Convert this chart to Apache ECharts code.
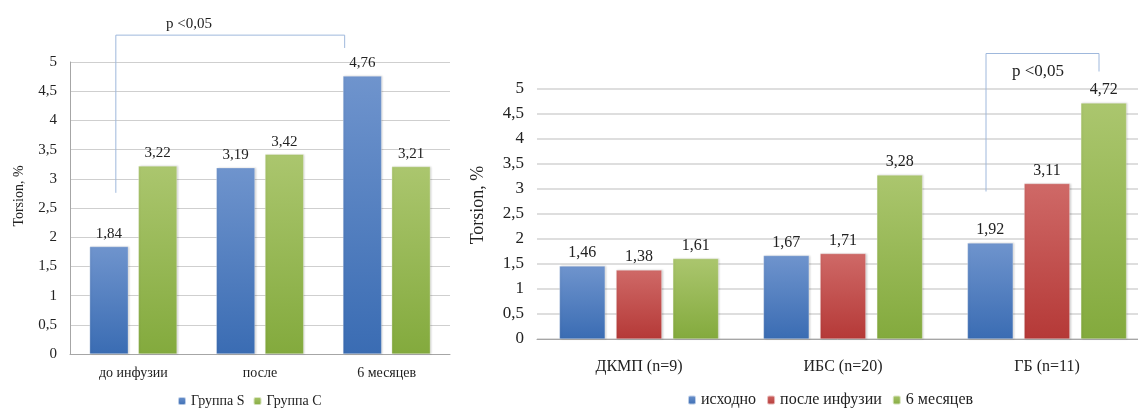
<!DOCTYPE html>
<html>
<head>
<meta charset="utf-8">
<script src="https://cdn.jsdelivr.net/npm/echarts@6/dist/echarts.min.js"></script>
<style>
  html, body { margin: 0; padding: 0; background: #fff; }
  #chart { width: 1138px; height: 408px; }
</style>
</head>
<body>
<div id="chart"></div>
<script>
// Left panel: two groups over three time points
const leftCategories = ['до инфузии', 'после', '6 месяцев'];
const groupS = [1.84, 3.19, 4.76];
const groupC = [3.22, 3.42, 3.21];

// Right panel: three diagnoses, three measurement points
const rightCategories = ['ДКМП (n=9)', 'ИБС (n=20)', 'ГБ (n=11)'];
const baseline = [1.46, 1.67, 1.92];
const afterInfusion = [1.38, 1.71, 3.11];
const sixMonths = [1.61, 3.28, 4.72];

const yTicks = [0, 0.5, 1, 1.5, 2, 2.5, 3, 3.5, 4, 4.5, 5];
const pText = 'p <0,05';

const serif = '"Liberation Serif", "DejaVu Serif", serif';
const comma = v => String(v).replace('.', ',');

function grad(top, bottom) {
  return new echarts.graphic.LinearGradient(0, 0, 0, 1, [
    { offset: 0, color: top }, { offset: 1, color: bottom }
  ]);
}
const blue = grad('#6f94cd', '#3a6cb3');
const green = grad('#abc66e', '#83aa3d');
const red = grad('#cf6967', '#b53937');

function bar(name, data, color, axis, fontSize) {
  return {
    name, type: 'bar', data,
    xAxisIndex: axis, yAxisIndex: axis,
    itemStyle: { color, borderColor: 'rgba(255,255,255,0.6)', borderWidth: 0.5,
      shadowColor: 'rgba(0,0,0,0.18)', shadowBlur: 2, shadowOffsetX: 1, shadowOffsetY: 0 },
    label: { show: true, position: 'top', distance: 5, color: '#222',
      fontFamily: serif, fontSize, formatter: p => comma(p.value) },
    barGap: axis === 0 ? '26%' : '24%',
    barCategoryGap: axis === 0 ? '31%' : '22%',
    emphasis: { disabled: true }
  };
}

const chart = echarts.init(document.getElementById('chart'), null, { renderer: 'canvas' });

function yAxis(gridIndex, fontSize, nameSize, gridColor, gridWidth, showLine, nameGap, pad) {
  return {
    type: 'value', gridIndex, min: yTicks[0], max: yTicks[yTicks.length - 1], interval: 0.5,
    axisLine: { show: showLine, lineStyle: { color: '#a6a6a6' } },
    axisTick: { show: false },
    splitLine: { lineStyle: { color: gridColor, width: gridWidth } },
    axisLabel: { fontFamily: serif, fontSize, color: '#222', margin: 13, formatter: v => comma(v) },
    name: 'Torsion, %', nameLocation: 'middle', nameRotate: 90, nameGap,
    nameTextStyle: { fontFamily: serif, fontSize: nameSize, color: '#222', padding: pad }
  };
}
function xAxis(gridIndex, data, fontSize, margin) {
  return {
    type: 'category', gridIndex, data,
    axisLine: { lineStyle: { color: '#a6a6a6' } },
    axisTick: { show: false },
    axisLabel: { fontFamily: serif, fontSize, color: '#222', margin }
  };
}

chart.setOption({
  animation: false,
  grid: [
    { left: 70, top: 62, width: 380, height: 292, outerBoundsMode: 'none', containLabel: false },
    { left: 537, top: 89, width: 612, height: 250, outerBoundsMode: 'none', containLabel: false }
  ],
  xAxis: [xAxis(0, leftCategories, 14, 12), xAxis(1, rightCategories, 16, 20)],
  yAxis: [
    yAxis(0, 15, 14, '#cfcfcf', 1, true, 44, [0, 0, 0, 24]),
    yAxis(1, 17, 18, '#dedede', 2, false, 50, [0, 0, 0, 18])
  ],
  legend: [
    { data: ['Группа S', 'Группа C'], left: 172, top: 389, itemWidth: 8, itemHeight: 8, itemGap: 8,
      textStyle: { fontFamily: serif, fontSize: 14, color: '#222' }, selectedMode: false },
    { data: ['исходно', 'после инфузии', '6 месяцев'], left: 682, top: 387, itemWidth: 8, itemHeight: 9, itemGap: 10,
      textStyle: { fontFamily: serif, fontSize: 16, color: '#222' }, selectedMode: false }
  ],
  series: [
    bar('Группа S', groupS, blue, 0, 15),
    bar('Группа C', groupC, green, 0, 15),
    bar('исходно', baseline, blue, 1, 16),
    bar('после инфузии', afterInfusion, red, 1, 16),
    bar('6 месяцев', sixMonths, green, 1, 16)
  ]
});

// Significance brackets, anchored to the category positions on each axis
function bracket(grid, fromCat, toCat, dxFrom, dxTo, yTop, yFrom, yTo, textX, textY, fontSize) {
  const a = chart.convertToPixel({ gridIndex: grid }, [fromCat, yTop]);
  const b = chart.convertToPixel({ gridIndex: grid }, [toCat, yTop]);
  const x1 = a[0] + dxFrom, x2 = b[0] + dxTo, top = a[1];
  const bottom1 = chart.convertToPixel({ gridIndex: grid }, [fromCat, yFrom])[1];
  const bottom2 = chart.convertToPixel({ gridIndex: grid }, [toCat, yTo])[1];
  const ty = chart.convertToPixel({ gridIndex: grid }, [fromCat, textY])[1];
  return [
    { type: 'polyline', silent: true,
      shape: { points: [[x1, bottom1], [x1, top], [x2, top], [x2, bottom2]] },
      style: { stroke: '#9fb8dc', lineWidth: 1, fill: null } },
    { type: 'text', silent: true, x: x1 + (x2 - x1) * textX, y: ty,
      style: { text: pText, fontFamily: serif, fontSize, fill: '#222', align: 'center', verticalAlign: 'middle' } }
  ];
}

chart.setOption({
  graphic: [
    ...bracket(0, 0, 2, -17.5, -42, 5.46, 2.76, 5.24, 0.32, 5.65, 15),
    ...bracket(1, 2, 2, -61, 52, 5.71, 2.95, 5.35, 0.46, 5.35, 17)
  ]
});
</script>
</body>
</html>
